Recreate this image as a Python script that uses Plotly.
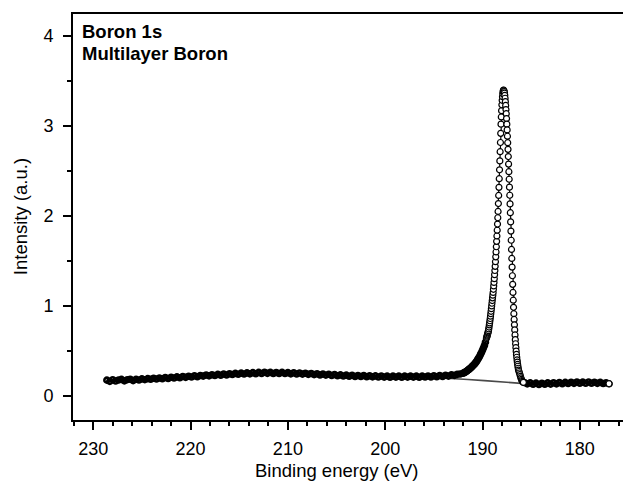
import plotly.graph_objects as go

# XPS Boron 1s spectrum, multilayer boron
# binding energy (eV) and intensity (a.u.)

# flat background region, high binding energy side
flat_left_be = [
    228.6, 228.3, 228.0, 227.7, 227.4, 227.1, 226.8, 226.5, 226.2, 225.9,
    225.6, 225.3, 225.0, 224.7, 224.4, 224.1, 223.8, 223.5, 223.2, 222.9,
    222.6, 222.3, 222.0, 221.7, 221.4, 221.1, 220.8, 220.5, 220.2, 219.9,
    219.6, 219.3, 219.0, 218.7, 218.4, 218.1, 217.8, 217.5, 217.2, 216.9,
    216.6, 216.3, 216.0, 215.7, 215.4, 215.1, 214.8, 214.5, 214.2, 213.9,
    213.6, 213.3, 213.0, 212.7, 212.4, 212.1, 211.8, 211.5, 211.2, 210.9,
    210.6, 210.3, 210.0, 209.7, 209.4, 209.1, 208.8, 208.5, 208.2, 207.9,
    207.6, 207.3, 207.0, 206.7, 206.4, 206.1, 205.8, 205.5, 205.2, 204.9,
    204.6, 204.3, 204.0, 203.7, 203.4, 203.1, 202.8, 202.5, 202.2, 201.9,
    201.6, 201.3, 201.0, 200.7, 200.4, 200.1, 199.8, 199.5, 199.2, 198.9,
    198.6, 198.3, 198.0, 197.7, 197.4, 197.1, 196.8, 196.5, 196.2, 195.9,
    195.6, 195.3, 195.0, 194.7, 194.4, 194.1, 193.8, 193.5, 193.2, 192.9,
    192.6, 192.3,
]
flat_left_int = [
    0.176, 0.162, 0.181, 0.166, 0.178, 0.184, 0.168, 0.181, 0.186, 0.171,
    0.185, 0.177, 0.190, 0.181, 0.193, 0.185, 0.197, 0.188, 0.199, 0.192,
    0.205, 0.194, 0.208, 0.199, 0.212, 0.203, 0.216, 0.207, 0.219, 0.211,
    0.224, 0.213, 0.228, 0.220, 0.233, 0.223, 0.236, 0.227, 0.240, 0.230,
    0.244, 0.233, 0.247, 0.238, 0.251, 0.242, 0.254, 0.244, 0.257, 0.246,
    0.259, 0.247, 0.262, 0.250, 0.263, 0.251, 0.262, 0.249, 0.261, 0.250,
    0.262, 0.249, 0.259, 0.246, 0.258, 0.244, 0.256, 0.243, 0.253, 0.240,
    0.250, 0.237, 0.247, 0.233, 0.244, 0.231, 0.241, 0.228, 0.238, 0.225,
    0.234, 0.222, 0.232, 0.219, 0.230, 0.217, 0.228, 0.216, 0.227, 0.214,
    0.225, 0.212, 0.223, 0.210, 0.222, 0.209, 0.221, 0.208, 0.220, 0.209,
    0.220, 0.208, 0.221, 0.209, 0.221, 0.209, 0.220, 0.208, 0.221, 0.210,
    0.222, 0.211, 0.225, 0.214, 0.227, 0.217, 0.230, 0.221, 0.234, 0.229,
    0.240, 0.244,
]

# rising tail on the high energy side of the peak
tail_left_be = [
    192.0, 191.9, 191.8, 191.7, 191.6, 191.5, 191.4, 191.3, 191.2, 191.1,
    191.0, 190.9, 190.8, 190.7, 190.6, 190.5, 190.4, 190.3, 190.2, 190.1,
    190.0, 189.9, 189.8, 189.7,
]
tail_left_int = [
    0.252, 0.258, 0.263, 0.270, 0.277, 0.287, 0.294, 0.305, 0.312, 0.325,
    0.336, 0.345, 0.358, 0.372, 0.386, 0.405, 0.422, 0.440, 0.463, 0.485,
    0.510, 0.535, 0.562, 0.598,
]

# main B 1s peak
peak_be = [
    189.60, 189.57, 189.54, 189.51, 189.48, 189.45, 189.42, 189.39, 189.36, 189.33,
    189.30, 189.27, 189.24, 189.21, 189.18, 189.15, 189.12, 189.09, 189.06, 189.03,
    189.00, 188.97, 188.94, 188.91, 188.88, 188.85, 188.82, 188.79, 188.76, 188.73,
    188.70, 188.67, 188.64, 188.61, 188.58, 188.55, 188.52, 188.49, 188.46, 188.43,
    188.40, 188.37, 188.34, 188.31, 188.28, 188.25, 188.22, 188.19, 188.16, 188.13,
    188.10, 188.07, 188.04, 188.01, 187.98, 187.95, 187.92, 187.89, 187.86, 187.83,
    187.80, 187.77, 187.74, 187.71, 187.68, 187.65, 187.62, 187.59, 187.56, 187.53,
    187.50, 187.47, 187.44, 187.41, 187.38, 187.35, 187.32, 187.29, 187.26, 187.23,
    187.20, 187.17, 187.14, 187.11, 187.08, 187.05, 187.02, 186.99, 186.96, 186.93,
    186.90, 186.87, 186.84, 186.81, 186.78, 186.75, 186.72, 186.69, 186.66, 186.63,
    186.60, 186.57, 186.54, 186.51, 186.48, 186.45, 186.42, 186.39, 186.36, 186.33,
    186.30,
]
peak_int = [
    0.640, 0.652, 0.664, 0.676, 0.688, 0.700, 0.712, 0.726, 0.745, 0.766,
    0.790, 0.812, 0.836, 0.861, 0.887, 0.914, 0.941, 0.970, 1.000, 1.030,
    1.060, 1.090, 1.120, 1.150, 1.185, 1.223, 1.262, 1.303, 1.348, 1.394,
    1.440, 1.492, 1.546, 1.600, 1.658, 1.718, 1.778, 1.842, 1.910, 1.980,
    2.050, 2.138, 2.228, 2.318, 2.414, 2.513, 2.612, 2.714, 2.816, 2.918,
    3.020, 3.100, 3.170, 3.235, 3.285, 3.325, 3.358, 3.380, 3.395, 3.398,
    3.390, 3.382, 3.365, 3.340, 3.308, 3.270, 3.228, 3.182, 3.136, 3.082,
    3.020, 2.956, 2.886, 2.814, 2.740, 2.660, 2.576, 2.492, 2.408, 2.320,
    2.230, 2.134, 2.036, 1.934, 1.832, 1.730, 1.628, 1.528, 1.432, 1.336,
    1.240, 1.150, 1.064, 0.985, 0.914, 0.850, 0.790, 0.734, 0.678, 0.626,
    0.580, 0.538, 0.498, 0.462, 0.430, 0.400, 0.376, 0.352, 0.330, 0.308,
    0.288,
]

# foot of the peak on the low energy side
tail_right_be = [186.25, 186.20, 186.15, 186.10, 186.05, 186.00, 185.95, 185.90, 185.85, 185.80]
tail_right_int = [0.272, 0.255, 0.237, 0.218, 0.200, 0.185, 0.172, 0.162, 0.155, 0.150]

# flat region, low binding energy side
flat_right_be = [
    185.7, 185.4, 185.1, 184.8, 184.5, 184.2, 183.9, 183.6, 183.3, 183.0,
    182.7, 182.4, 182.1, 181.8, 181.5, 181.2, 180.9, 180.6, 180.3, 180.0,
    179.7, 179.4, 179.1, 178.8, 178.5, 178.2, 177.9, 177.6, 177.3, 177.0,
]
flat_right_int = [
    0.150, 0.134, 0.146, 0.130, 0.143, 0.128, 0.141, 0.130, 0.145, 0.132,
    0.147, 0.134, 0.149, 0.136, 0.151, 0.138, 0.153, 0.140, 0.155, 0.141,
    0.154, 0.141, 0.156, 0.142, 0.153, 0.140, 0.151, 0.138, 0.147, 0.136,
]

# background (baseline) under the peak
bg_be = [195.0, 193.2, 191.5, 189.8, 188.0, 186.4, 185.0]
bg_int = [0.205, 0.196, 0.183, 0.170, 0.155, 0.140, 0.132]

all_be = flat_left_be + tail_left_be + peak_be + tail_right_be + flat_right_be
all_int = flat_left_int + tail_left_int + peak_int + tail_right_int + flat_right_int

FONT = "Liberation Sans, Arial, sans-serif"

fig = go.Figure()

fig.add_trace(go.Scatter(
    x=bg_be, y=bg_int, mode="lines",
    line=dict(color="#4a4a4a", width=1.6),
    hoverinfo="skip",
))

fig.add_trace(go.Scatter(
    x=all_be, y=all_int, mode="lines",
    line=dict(color="black", width=1.2),
))

# dense background points: heavy open circles, they merge into a solid band
fig.add_trace(go.Scatter(
    x=flat_left_be + tail_left_be + flat_right_be,
    y=flat_left_int + tail_left_int + flat_right_int,
    mode="markers",
    marker=dict(symbol="circle-open", size=5, color="black", line=dict(width=2.6)),
))

# peak points: white filled circles
fig.add_trace(go.Scatter(
    x=peak_be + tail_right_be,
    y=peak_int + tail_right_int,
    mode="markers",
    marker=dict(symbol="circle", size=6, color="white", line=dict(color="black", width=1.2)),
))

# last point on the right is drawn as a visible open circle
fig.add_trace(go.Scatter(
    x=flat_right_be[-1:], y=flat_right_int[-1:], mode="markers",
    marker=dict(symbol="circle", size=6, color="white", line=dict(color="black", width=1.2)),
))

axis_common = dict(
    showgrid=False, zeroline=False,
    showline=True, linecolor="black", linewidth=2, mirror=True,
    ticks="outside", ticklen=8, tickwidth=1.5, tickcolor="black",
    tickfont=dict(family=FONT, size=18, color="black"),
)

fig.update_xaxes(
    range=[232.08, 175.05], dtick=10, tick0=0,
    minor=dict(dtick=2, ticks="outside", ticklen=4, tickwidth=1.5, tickcolor="black"),
    ticklabelstandoff=3,
    **axis_common,
)
fig.update_yaxes(
    range=[-0.267, 4.244], dtick=1, tick0=0,
    minor=dict(dtick=0.5, ticks="outside", ticklen=4, tickwidth=1.5, tickcolor="black"),
    ticklabelstandoff=6,
    **axis_common,
)

title_font = dict(family=FONT, size=18.5, color="black")

fig.add_annotation(
    text="<b>Boron 1s</b>",
    xref="paper", yref="paper", x=0.013, y=0.9557,
    xanchor="left", yanchor="middle", align="left", showarrow=False,
    font=title_font,
)
fig.add_annotation(
    text="<b>Multilayer Boron</b>",
    xref="paper", yref="paper", x=0.013, y=0.9039,
    xanchor="left", yanchor="middle", align="left", showarrow=False,
    font=title_font,
)
fig.add_annotation(
    text="Binding energy (eV)",
    xref="paper", yref="paper", x=0.4758, y=-0.1256,
    xanchor="center", yanchor="middle", showarrow=False,
    font=title_font,
)
fig.add_annotation(
    text="Intensity (a.u.)",
    xref="paper", yref="paper", x=-0.0952, y=0.5, textangle=-90,
    xanchor="center", yanchor="middle", showarrow=False,
    font=title_font,
)

# the page body adds an 8 px offset, so the figure is 8 px smaller
fig.update_layout(
    width=623, height=473,
    margin=dict(l=65, r=1, t=6, b=61),
    plot_bgcolor="white", paper_bgcolor="white",
    showlegend=False,
)

fig.write_html("out.html")
